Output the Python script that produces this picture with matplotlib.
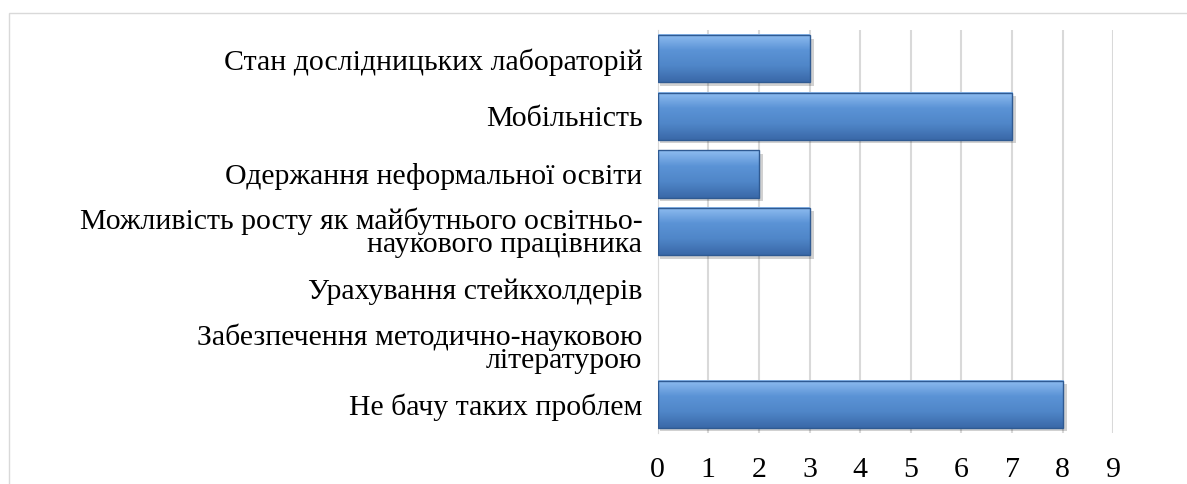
import matplotlib.pyplot as plt
import numpy as np
from matplotlib.colors import LinearSegmentedColormap
from matplotlib.patches import Rectangle

categories = ['Стан дослідницьких лабораторій',
              'Мобільність',
              'Одержання неформальної освіти',
              'Можливість росту як майбутнього освітньо-\nнаукового працівника',
              'Урахування стейкхолдерів',
              'Забезпечення методично-науковою\nлітературою',
              'Не бачу таких проблем']
values = [3, 7, 2, 3, 0, 0, 8]
ticks = list(range(10))

plt.rcParams['font.family'] = ['Liberation Serif', 'DejaVu Serif']

fig = plt.figure(figsize=(11.87, 4.84), dpi=100)
ax = fig.add_axes([0.554, 0.105, 0.384, 0.833])

# outer chart border
fig.patches.append(Rectangle((0.008, -0.01), 0.995, 0.983, transform=fig.transFigure,
                             fill=False, edgecolor='#d9d9d9', lw=1))

cmap = LinearSegmentedColormap.from_list('bar', ['#8fbdf0', '#5b93d6', '#4f86c8', '#3a68a8'])
grad = np.linspace(0, 1, 100).reshape(-1, 1)
y = np.arange(len(categories))
h = 0.82
for yi, v in zip(y, values):
    if v <= 0:
        continue
    # soft shadow
    ax.add_patch(Rectangle((0.04, yi - h / 2 + 0.06), v + 0.04, h, color='#000000', alpha=0.18,
                           lw=0, zorder=2))
    ax.imshow(grad, extent=(0, v, yi + h / 2, yi - h / 2), cmap=cmap, aspect='auto', zorder=3)
    ax.add_patch(Rectangle((0, yi - h / 2), v, h, fill=False, edgecolor='#2f5a92', lw=1, zorder=4))

ax.set_xlim(0, 9)
ax.set_ylim(len(categories) - 0.5, -0.5)
ax.set_xticks(ticks)
ax.set_yticks(y)
ax.set_yticklabels(categories, fontsize=21.5, linespacing=0.85)
ax.tick_params(axis='x', labelsize=21.5, length=0, pad=17)
ax.tick_params(axis='y', length=0, pad=11)
ax.grid(axis='x', color='#d9d9d9', lw=1.5, zorder=0)
ax.set_axisbelow(True)
for s in ['top', 'right', 'bottom']:
    ax.spines[s].set_visible(False)
ax.spines['left'].set_color('#d9d9d9')

plt.savefig('out.png', dpi=100)
